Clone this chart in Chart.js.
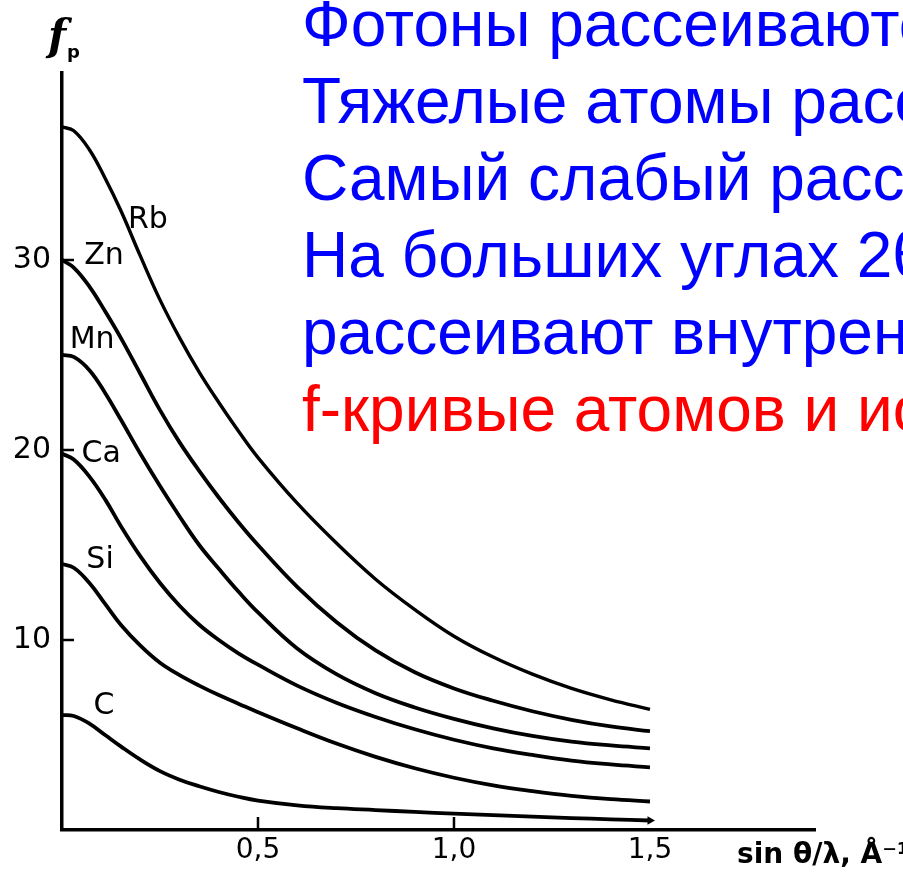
<!DOCTYPE html>
<html lang="ru">
<head>
<meta charset="utf-8">
<title>f-кривые атомов</title>
<script src="https://cdn.jsdelivr.net/npm/chart.js@4.4.1/dist/chart.umd.min.js"></script>
<style>
  html, body { margin: 0; padding: 0; background: #fff; overflow: hidden; width: 903px; height: 872px; }
  #wrap { position: absolute; left: 0; top: 0; width: 903px; height: 872px; }
  #notes {
    position: absolute; left: 302px; top: -14px;
    font-family: "Liberation Sans", Arial, sans-serif;
    font-size: 64px; line-height: 77px;
    color: #0000ff; white-space: nowrap;
  }
  #notes .hl { color: #ff0000; }
</style>
</head>
<body>
<div id="wrap"><canvas id="chart" width="903" height="872"></canvas></div>
<div id="notes">
  <div>Фотоны рассеиваются</div>
  <div>Тяжелые атомы рассеивают</div>
  <div>Самый слабый рассеиватель</div>
  <div>На больших углах 2θ</div>
  <div>рассеивают внутренние</div>
  <div class="hl">f-кривые атомов и ионов</div>
</div>
<script>
// sin(theta)/lambda, 1/Å
const sinThetaOverLambda = [0, 0.03, 0.07, 0.11, 0.15, 0.2, 0.25, 0.3, 0.35, 0.4, 0.45, 0.5,
                            0.6, 0.7, 0.8, 0.9, 1.0, 1.1, 1.2, 1.3, 1.4, 1.5];

// atomic scattering factor f for each element
const fRb = [37.0, 36.8, 35.8, 34.3, 32.6, 30.2, 27.9, 25.9, 24.1, 22.5, 21.0, 19.6,
             17.2, 15.1, 13.2, 11.6, 10.2, 9.1, 8.2, 7.45, 6.85, 6.35];
const fZn = [30.0, 29.6, 28.6, 27.3, 25.9, 24.0, 22.1, 20.4, 18.9, 17.5, 16.2, 15.0,
             12.8, 10.95, 9.45, 8.3, 7.45, 6.8, 6.25, 5.8, 5.45, 5.2];
const fMn = [25.0, 24.9, 24.2, 23.0, 21.6, 19.8, 18.1, 16.5, 15.0, 13.75, 12.55, 11.45,
             9.55, 8.2, 7.2, 6.45, 5.85, 5.35, 4.95, 4.65, 4.45, 4.3];
const fCa = [19.8, 19.5, 18.6, 17.4, 16.0, 14.4, 13.0, 11.8, 10.8, 10.0, 9.3, 8.7,
             7.6, 6.7, 5.95, 5.3, 4.75, 4.3, 3.95, 3.65, 3.45, 3.3];
const fSi = [14.0, 13.8, 13.0, 11.9, 10.8, 9.7, 8.8, 8.15, 7.6, 7.1, 6.65, 6.2,
             5.35, 4.55, 3.85, 3.25, 2.75, 2.35, 2.05, 1.8, 1.62, 1.5];
const fC  = [6.05, 6.0, 5.6, 5.0, 4.4, 3.7, 3.1, 2.65, 2.3, 2.0, 1.75, 1.55,
             1.3, 1.15, 1.05, 0.95, 0.86, 0.78, 0.7, 0.63, 0.56, 0.5];

const elements = ['Rb', 'Zn', 'Mn', 'Ca', 'Si', 'C'];
const fSeries = [fRb, fZn, fMn, fCa, fSi, fC];

// where each element name sits, in axis units (sinθ/λ, f)
const nameAtX = [0.219, 0.107, 0.077, 0.100, 0.097, 0.107];
const nameAtF = [32.1, 30.2, 25.8, 19.8, 14.2, 6.5];

const xTickValues = [0.5, 1.0, 1.5];
const yTickValues = [10, 20, 30];

const lastIdx = sinThetaOverLambda.length - 1;

const datasets = elements.map((el, i) => ({
  label: el,
  data: sinThetaOverLambda.map((s, j) => ({ x: s, y: fSeries[i][j] })),
  borderColor: '#000',
  backgroundColor: '#000',
  borderWidth: i === 0 ? 3.4 : 3.8,
  tension: 0.4,
  fill: false,
  pointStyle: 'triangle',
  rotation: 90,
  pointRadius: el === 'C' ? (ctx => ctx.dataIndex === lastIdx ? 5 : 0) : 0,
  pointBorderWidth: 0,
  clip: false
}));

// tick stubs, curve names, axis captions
const decor = {
  id: 'decor',
  afterDraw(chart) {
    const { ctx, scales: { x, y } } = chart;
    ctx.save();
    ctx.strokeStyle = '#000';
    ctx.fillStyle = '#000';
    ctx.lineWidth = 2.5;
    ctx.beginPath();
    yTickValues.forEach(v => {
      const py = y.getPixelForValue(v);
      ctx.moveTo(x.left, py);
      ctx.lineTo(x.left + 12, py);
    });
    xTickValues.slice(0, 2).forEach(v => {
      const px = x.getPixelForValue(v);
      ctx.moveTo(px, y.bottom);
      ctx.lineTo(px, y.bottom - 13);
    });
    ctx.stroke();

    ctx.font = '30px "DejaVu Sans", sans-serif';
    ctx.textAlign = 'center';
    ctx.textBaseline = 'middle';
    elements.forEach((el, i) => {
      ctx.fillText(el, x.getPixelForValue(nameAtX[i]), y.getPixelForValue(nameAtF[i]));
    });

    // y-axis caption f_p
    ctx.textAlign = 'left';
    ctx.textBaseline = 'alphabetic';
    ctx.font = 'bold italic 42px "DejaVu Serif", serif';
    ctx.fillText('f', 48, 50);
    ctx.font = 'bold 18px "DejaVu Sans", sans-serif';
    ctx.fillText('p', 67, 58);

    // x-axis caption
    ctx.font = 'bold 28px "DejaVu Sans", sans-serif';
    ctx.fillText('sin θ/λ, Å⁻¹', 737, 863);
    ctx.restore();
  }
};

new Chart(document.getElementById('chart'), {
  type: 'line',
  data: { datasets },
  plugins: [decor],
  options: {
    responsive: false,
    animation: false,
    devicePixelRatio: 1,
    layout: { padding: { left: 0, top: 73, right: 88, bottom: 0 } },
    plugins: { legend: { display: false }, tooltip: { enabled: false } },
    scales: {
      x: {
        type: 'linear',
        min: 0,
        max: 1.921,
        grid: { drawOnChartArea: false, drawTicks: false },
        border: { display: true, color: '#000', width: 3.5 },
        afterBuildTicks: s => { s.ticks = xTickValues.map(value => ({ value })); },
        afterFit: s => { s.height = 42; },
        ticks: {
          color: '#000',
          padding: 4,
          maxRotation: 0,
          font: { family: '"DejaVu Sans", sans-serif', size: 28 },
          callback: v => v.toFixed(1).replace('.', ',')
        }
      },
      y: {
        type: 'linear',
        min: 0,
        max: 39.84,
        grid: { drawOnChartArea: false, drawTicks: false },
        border: { display: true, color: '#000', width: 3.5 },
        afterBuildTicks: s => { s.ticks = yTickValues.map(value => ({ value })); },
        afterFit: s => { s.width = 62; },
        ticks: {
          color: '#000',
          padding: 11,
          font: { family: '"DejaVu Sans", sans-serif', size: 30 },
          callback: v => String(v)
        }
      }
    }
  }
});
</script>
</body>
</html>
